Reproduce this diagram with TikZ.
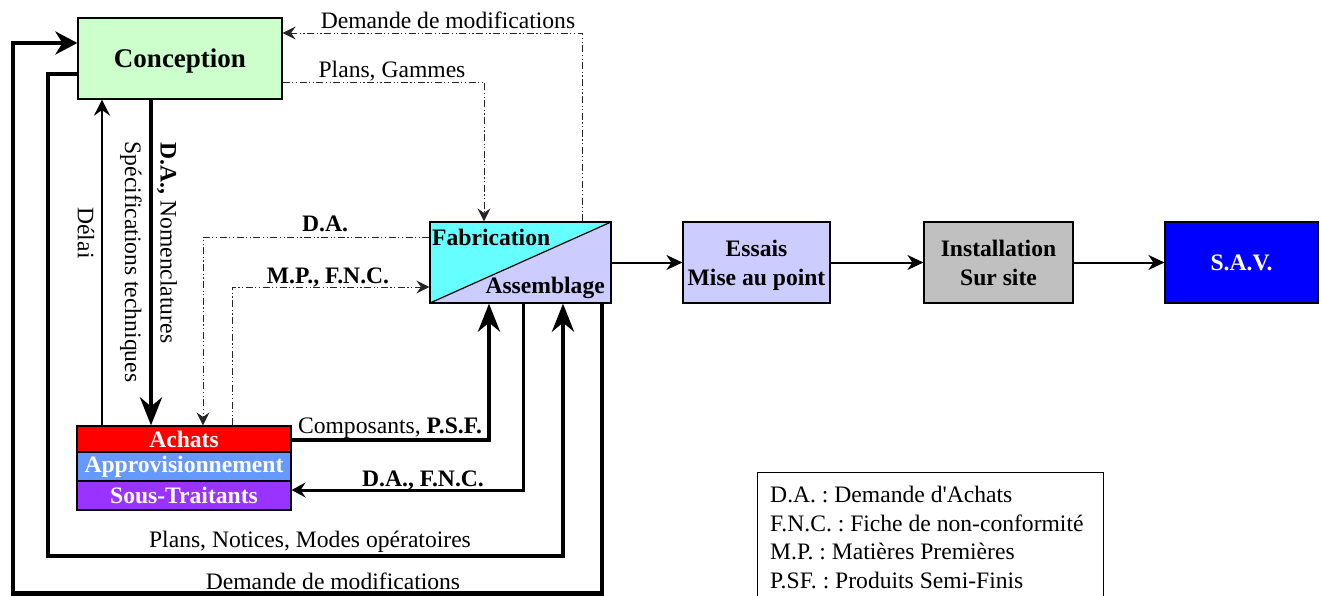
\documentclass[tikz,border=0pt]{standalone}
\usepackage{fontspec}
\setmainfont{Liberation Serif}
\usetikzlibrary{arrows.meta,calc}
\definecolor{cgreen}{HTML}{CCFFCC}
\definecolor{ccyan}{HTML}{66FFFF}
\definecolor{clav}{HTML}{CCCCFF}
\definecolor{cgray}{HTML}{C0C0C0}
\definecolor{cblue}{HTML}{0000FF}
\definecolor{cred}{HTML}{FF0000}
\definecolor{cappro}{HTML}{6699FF}
\definecolor{cpurple}{HTML}{9933FF}
\begin{document}
\frenchspacing
\fontsize{23.6}{28}\selectfont
\begin{tikzpicture}[x=1pt,y=-1pt,
  box/.style={draw=black, line width=1.2pt, inner sep=0pt, align=center},
  lbl/.style={inner sep=0pt, anchor=base},
  vlbl/.style={inner sep=0pt, anchor=center, rotate=-90},
  ddd/.style={line width=0.9pt, draw=black!85, dash pattern=on 7pt off 2.5pt on 1.2pt off 2.5pt on 1.2pt off 2.5pt},
  thinhead/.style={-{Stealth[length=13pt,width=13pt,inset=4.5pt]}},
  bigarrow/.style={line width=4.5pt, line join=miter, -{Stealth[length=28pt,width=22pt,inset=9pt]}},
  midarrow/.style={line width=2.8pt, line join=miter, -{Stealth[length=16pt,width=16pt,inset=5.5pt]}},
  flow/.style={line width=2pt, -{Stealth[length=16pt,width=15pt,inset=5pt]}}
]
\useasboundingbox (0,0) rectangle (1321,596);

% boxes
\node[box, fill=cgreen, minimum width=204pt, minimum height=81pt, text depth=0pt,
      font=\fontsize{27}{30}\selectfont\bfseries] (conc) at (180,58.5) {Conception};
\node[box, fill=clav, minimum width=181pt, minimum height=81pt,
      path picture={
        \fill[ccyan] (path picture bounding box.south west) -- (path picture bounding box.north west)
          -- (path picture bounding box.north east) -- cycle;
        \draw[line width=1.2pt] (path picture bounding box.south west) -- (path picture bounding box.north east);}]
      (fab) at (520.5,262.5) {};
\node[lbl, anchor=base west, font=\bfseries] (fabt) at (432,245) {Fabrication};
\node[lbl, anchor=base east, font=\bfseries] (asst) at (605,293) {Assemblage};

\node[box, fill=clav, minimum width=147pt, minimum height=81pt, text depth=0pt,
      font=\fontsize{23.6}{29}\selectfont\bfseries] (essais) at (756.5,262.5) {Essais\\Mise au point};
\node[box, fill=cgray, minimum width=149pt, minimum height=81pt, text depth=0pt,
      font=\fontsize{23.6}{29}\selectfont\bfseries] (inst) at (998.5,262.5) {Installation\\Sur site};
\node[box, fill=cblue, minimum width=153pt, minimum height=81pt, text=white,
      font=\bfseries] (sav) at (1241.5,262.5) {\raisebox{-3pt}{S.A.V.}};

\node[box, fill=cred, minimum width=214pt, minimum height=26pt, text=white, font=\bfseries] (achats) at (184,439) {Achats};
\node[box, fill=cappro, minimum width=214pt, minimum height=29pt, text=white, font=\bfseries] (appro) at (184,466.5) {Approvisionnement};
\node[box, fill=cpurple, minimum width=214pt, minimum height=29pt, text=white, font=\bfseries] (sous) at (184,495.5) {Sous-Traitants};

% helper coordinates
\coordinate (xna) at (151,0);
\coordinate (xde) at (102,0);
\coordinate (pda) at (203,237);
\coordinate (pmp) at (232,287);
\coordinate (ppg) at (484,82);
\coordinate (pdm) at (582,33);
\coordinate (pco) at (489,440);
\coordinate (pdf) at (523,490);
\coordinate (pnA) at (48,74);
\coordinate (pnB) at (563,556);
\coordinate (dmA) at (13,43);
\coordinate (dmB) at (602,593.5);

% flows on the main line
\draw[flow] (fab.east) -- (essais.west);
\draw[flow] (essais.east) -- (inst.west);
\draw[flow] (inst.east) -- (sav.west);

% Conception -> Achats
\draw[bigarrow] (conc.south -| xna) -- (achats.north -| xna);
\node[vlbl] (lna) at (167,243) {\textbf{D.A.,} Nomenclatures};
\node[vlbl] (lspec) at (131,262) {Spécifications techniques};

% Délai
\draw[midarrow] (achats.north -| xde) -- (conc.south -| xde);
\node[vlbl] (ldelai) at (86,233) {Délai};

% dash-dot connectors
\draw[ddd, thinhead] (fab.west |- pda) -| (achats.north -| pda);
\node[lbl, font=\bfseries] (lda) at (325,231) {D.A.};
\draw[ddd, thinhead] (achats.north -| pmp) |- (fab.west |- pmp);
\node[lbl, font=\bfseries] (lmp) at (328,283) {M.P., F.N.C.};
\draw[ddd, thinhead] (conc.east |- ppg) -| (fab.north -| ppg);
\node[lbl] (lpg) at (392,78) {Plans, Gammes};
\draw[ddd, thinhead] (fab.north -| pdm) |- (conc.east |- pdm);
\node[lbl] (ldm1) at (448,29) {Demande de modifications};

% Achats <-> Fabrication
\draw[bigarrow] (achats.east |- pco) -| (fab.south -| pco);
\node[lbl] (lco) at (390,433) {Composants, \textbf{P.S.F.}};
\draw[line width=3pt, line join=miter, -{Stealth[length=14pt,width=15pt,inset=5pt]}] (fab.south -| pdf) |- (sous.east |- pdf);
\node[lbl, font=\bfseries] (ldf) at (423,486) {D.A., F.N.C.};

% big loops
\draw[bigarrow] (conc.west |- pnA) -- (pnA) |- (pnB) -- (fab.south -| pnB);
\node[lbl] (lpn) at (310,547) {Plans, Notices, Modes opératoires};
\draw[line width=4.5pt, line join=miter, -{Stealth[length=22pt,width=23pt,inset=7pt]}] (fab.south -| dmB) -- (dmB) -| (dmA) -- (conc.west |- dmA);
\node[lbl] (ldm2) at (333,589) {Demande de modifications};

% legend
\draw[line width=1pt] (757,597) -- (757,472) -- (1103,472) -- (1103,597);
\node[lbl, anchor=base west] (leg1) at (770,502) {D.A. : Demande d\textquotesingle Achats};
\node[lbl, anchor=base west] (leg2) at (770,531) {F.N.C. : Fiche de non-conformité};
\node[lbl, anchor=base west] (leg3) at (770,559.5) {M.P. : Matières Premières};
\node[lbl, anchor=base west] (leg4) at (770,588) {P.SF. : Produits Semi-Finis};
\end{tikzpicture}
\end{document}
